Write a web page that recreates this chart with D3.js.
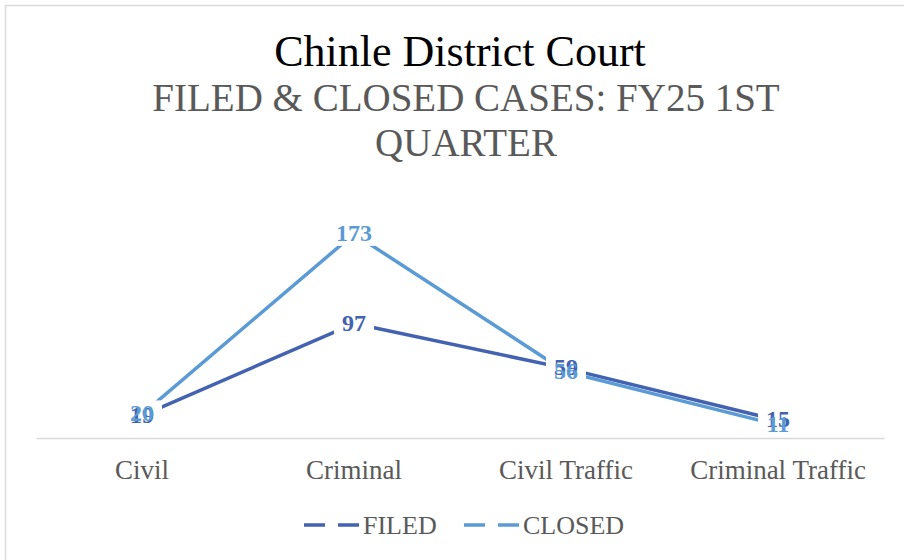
<!DOCTYPE html>
<html><head><meta charset="utf-8">
<script src="https://cdn.jsdelivr.net/npm/d3@7"></script>
<style>body{margin:0;background:#fff}svg{display:block}</style>
</head><body>
<script>
const categories = ["Civil", "Criminal", "Civil Traffic", "Criminal Traffic"];
const filed = [19, 97, 59, 15];
const closed = [20, 173, 56, 11];
const seriesNames = ["FILED", "CLOSED"];
const titleText = "Chinle District Court";
const subtitleLines = ["FILED & CLOSED CASES: FY25 1ST", "QUARTER"];

const W = 904, H = 560;
const colors = ["#4362B2", "#5B9BD5"];
const serif = "'Liberation Serif','Times New Roman',serif";

const svg = d3.select("body").append("svg").attr("width", W).attr("height", H);
svg.append("rect").attr("x", 5.5).attr("y", 5.5).attr("width", W + 10).attr("height", H + 10)
  .attr("fill", "#fff").attr("stroke", "#d9d9d9").attr("stroke-width", 1.5);

svg.append("text").attr("x", 460).attr("y", 66).attr("text-anchor", "middle")
  .attr("font-family", serif).attr("font-size", 44).attr("fill", "#000").text(titleText);
subtitleLines.forEach((t, i) => {
  svg.append("text").attr("x", 466).attr("y", 111 + i * 45).attr("text-anchor", "middle")
    .attr("font-family", serif).attr("font-size", 39).attr("fill", "#595959").text(t);
});

const x = d3.scaleBand().domain(categories).range([36, 884]);
const y = d3.scaleLinear().domain([0, 200]).range([438, 202]);

const xAxis = svg.append("g").attr("transform", "translate(0,438)")
  .call(d3.axisBottom(x).tickSize(0).tickPadding(22));
xAxis.select(".domain").attr("stroke", "#d9d9d9").attr("stroke-width", 1.5);
xAxis.selectAll("text").attr("font-family", serif).attr("font-size", 27).attr("fill", "#595959");

const series = [filed, closed];
const line = d3.line().x((d, i) => x(categories[i]) + x.bandwidth() / 2).y(d => y(d));
series.forEach((s, k) => {
  svg.append("path").datum(s).attr("d", line).attr("fill", "none")
    .attr("stroke", colors[k]).attr("stroke-width", 3.5).attr("stroke-linejoin", "round");
});

// label backgrounds first, then texts
const labG = svg.append("g");
series.forEach((s, k) => {
  s.forEach((v, i) => {
    const cx = x(categories[i]) + x.bandwidth() / 2, cy = y(v);
    const w = String(v).length * 12 + 16;
    labG.append("rect").attr("x", cx - w / 2).attr("y", cy - 14).attr("width", w).attr("height", 26).attr("fill", "#fff");
  });
});
series.forEach((s, k) => {
  s.forEach((v, i) => {
    const cx = x(categories[i]) + x.bandwidth() / 2, cy = y(v);
    labG.append("text").attr("x", cx).attr("y", cy + 7).attr("text-anchor", "middle")
      .attr("font-family", serif).attr("font-size", 24).attr("font-weight", "bold")
      .attr("fill", colors[k]).text(v);
  });
});

// legend
const legX = [304, 464];
seriesNames.forEach((n, k) => {
  const g = svg.append("g");
  g.append("line").attr("x1", legX[k]).attr("x2", legX[k] + 55).attr("y1", 525).attr("y2", 525)
    .attr("stroke", colors[k]).attr("stroke-width", 3.5).attr("stroke-dasharray", "21,13");
  g.append("text").attr("x", legX[k] + 59).attr("y", 534).attr("font-family", serif)
    .attr("font-size", 26).attr("fill", "#595959").text(n);
});
</script>
</body></html>
